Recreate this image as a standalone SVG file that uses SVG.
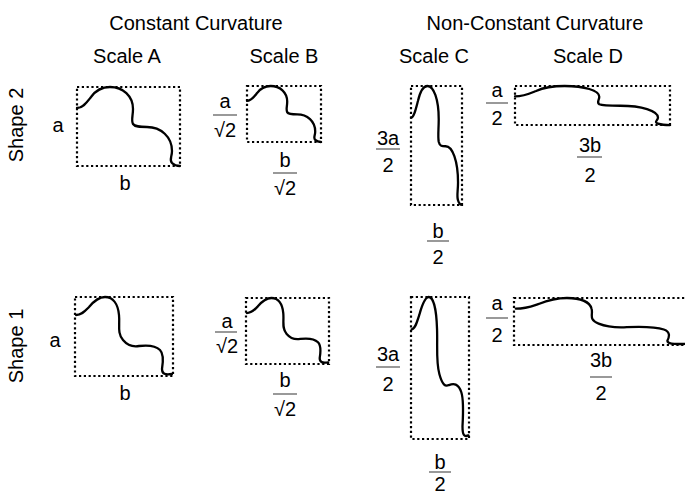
<svg xmlns="http://www.w3.org/2000/svg" xmlns:xlink="http://www.w3.org/1999/xlink" width="685" height="494" viewBox="0 0 685 494">
<style>
text{font-family:"Liberation Sans",Arial,Helvetica,sans-serif;font-size:20px;fill:#000;text-anchor:middle}
.box{fill:none;stroke:#000;stroke-width:2.2;stroke-dasharray:2.2 2.6}
.crv{fill:none;stroke:#000;stroke-width:2.3;stroke-linecap:round;stroke-linejoin:round;vector-effect:non-scaling-stroke}
.fl{stroke:#555;stroke-width:1.2}
</style>
<defs>
<path id="s2" class="crv" d="M0,21 C6,21 10,15 14,10 C19,3 25,0 33,0 C46,0 56,9 56,22 C56,29 54,33 56,37 C58,40 63,40 70,40 C84,40 95,50 95,64 C95,70 92,73 95,76 C97,78 100,79 103,79"/>
<path id="s1" class="crv" d="M1,18 C7,18 10,14 14,10 C19,4 24,0 30,0 C38,0 43,7 44,18 C45,28 42,36 48,43 C53,49 58,50 64,49 C72,48 80,48 85,53 C89,57 88,66 87,72 C87,77 90,78 97,77"/>
</defs>
<rect width="685" height="494" fill="#fff"/>
<g id="headers">
<text x="196" y="30">Constant Curvature</text>
<text x="535" y="30">Non-Constant Curvature</text>
<text x="127" y="63">Scale A</text>
<text x="284" y="63">Scale B</text>
<text x="434" y="63">Scale C</text>
<text x="588" y="63">Scale D</text>
<text transform="translate(23,125) rotate(-90)" x="0" y="0">Shape 2</text>
<text transform="translate(23,346) rotate(-90)" x="0" y="0">Shape 1</text>
</g>
<g id="shape2-A">
<rect class="box" x="77" y="87" width="103" height="79"/>
<use xlink:href="#s2" transform="translate(77,87)"/>
<text x="58" y="132">a</text>
<text x="125" y="190">b</text>
</g>
<g id="shape2-B">
<rect class="box" x="247" y="86" width="74" height="56"/>
<use xlink:href="#s2" transform="translate(247,86) scale(0.718,0.709)"/>
<text x="225" y="108">a</text><line class="fl" x1="213" y1="115" x2="237" y2="115"/><text x="225" y="137">√2</text>
<text x="285" y="167">b</text><line class="fl" x1="273" y1="173" x2="297" y2="173"/><text x="285" y="195">√2</text>
</g>
<g id="shape2-C">
<rect class="box" x="411" y="86" width="51" height="119"/>
<use xlink:href="#s2" transform="translate(411,86) scale(0.495,1.506)"/>
<text x="388" y="145">3a</text><line class="fl" x1="376" y1="149" x2="400" y2="149"/><text x="388" y="172">2</text>
<text x="438" y="238">b</text><line class="fl" x1="427" y1="241" x2="449" y2="241"/><text x="438" y="264">2</text>
</g>
<g id="shape2-D">
<rect class="box" x="515" y="86" width="155" height="39"/>
<use xlink:href="#s2" transform="translate(515,86) scale(1.505,0.494)"/>
<text x="497" y="97">a</text><line class="fl" x1="486" y1="103" x2="508" y2="103"/><text x="497" y="125">2</text>
<text x="590" y="152">3b</text><line class="fl" x1="577" y1="157" x2="602" y2="157"/><text x="590" y="182">2</text>
</g>
<g id="shape1-A">
<rect class="box" x="75" y="297" width="98" height="79"/>
<use xlink:href="#s1" transform="translate(75,297)"/>
<text x="55" y="347">a</text>
<text x="125" y="400">b</text>
</g>
<g id="shape1-B">
<rect class="box" x="246" y="298" width="83" height="66"/>
<use xlink:href="#s1" transform="translate(246,298) scale(0.847,0.835)"/>
<text x="227" y="328">a</text><line class="fl" x1="215" y1="332" x2="237" y2="332"/><text x="227" y="353">√2</text>
<text x="285" y="387">b</text><line class="fl" x1="273" y1="394" x2="297" y2="394"/><text x="285" y="416">√2</text>
</g>
<g id="shape1-C">
<rect class="box" x="411" y="297" width="58" height="142"/>
<use xlink:href="#s1" transform="translate(411,297) scale(0.592,1.797)"/>
<text x="388" y="361">3a</text><line class="fl" x1="376" y1="367" x2="400" y2="367"/><text x="388" y="391">2</text>
<text x="440" y="469">b</text><line class="fl" x1="429" y1="472" x2="451" y2="472"/><text x="440" y="491">2</text>
</g>
<g id="shape1-D">
<rect class="box" x="514" y="298" width="174" height="47"/>
<use xlink:href="#s1" transform="translate(514,298) scale(1.763,0.595)"/>
<text x="497" y="310">a</text><line class="fl" x1="486" y1="318" x2="508" y2="318"/><text x="497" y="342">2</text>
<text x="601" y="367">3b</text><line class="fl" x1="590" y1="377" x2="612" y2="377"/><text x="601" y="400">2</text>
</g>
</svg>
